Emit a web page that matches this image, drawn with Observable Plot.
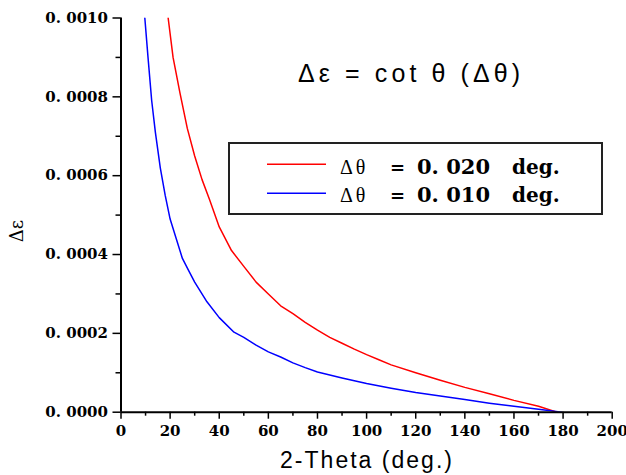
<!DOCTYPE html>
<html>
<head>
<meta charset="utf-8">
<script src="https://cdn.jsdelivr.net/npm/d3@7"></script>
<script src="https://cdn.jsdelivr.net/npm/@observablehq/plot@0.6"></script>
<style>
  html, body { margin: 0; padding: 0; background: #fff; }
  svg { display: block; }
</style>
</head>
<body>
<script>
// 2-Theta (deg.) positions and Δε values
const redTwoTheta = [19.2, 21.2, 24, 27, 30, 33, 36, 40, 45, 50, 55, 60, 65, 70, 75, 80, 85, 90, 95, 100, 105, 110, 120, 130, 140, 150, 160, 170, 177.5];
const redStrain   = [0.00100, 0.00090, 0.00081, 0.00072, 0.00065, 0.00059, 0.00054, 0.00047, 0.00041, 0.00037, 0.00033, 0.00030, 0.00027, 0.00025, 0.000228, 0.000208, 0.00019, 0.000175, 0.00016, 0.000146, 0.000133, 0.00012, 0.00010, 0.000081, 0.000063, 0.000047, 0.00003, 0.000015, 0.0];

const blueTwoTheta = [9.7, 11, 12.5, 14, 16, 18, 20, 22.5, 25, 27.5, 30, 35, 40, 46, 50, 55, 60, 65, 70, 75, 80, 90, 100, 110, 120, 130, 140, 150, 160, 170, 179.5];
const blueStrain   = [0.00100, 0.00090, 0.00079, 0.00071, 0.00062, 0.00055, 0.00049, 0.00044, 0.00039, 0.00036, 0.00033, 0.00028, 0.00024, 0.000203, 0.00019, 0.00017, 0.000153, 0.00014, 0.000125, 0.000113, 0.000102, 0.000087, 0.000073, 0.000061, 0.00005, 0.000041, 0.000032, 0.000023, 0.000015, 0.0000075, 0.0];

const xMajorTicks = [0, 20, 40, 60, 80, 100, 120, 140, 160, 180, 200];
const xMinorTicks = [10, 30, 50, 70, 90, 110, 130, 150, 170, 190];
const yMajorTicks = [0, 0.0002, 0.0004, 0.0006, 0.0008, 0.0010];
const yMinorTicks = [0.0001, 0.0003, 0.0005, 0.0007, 0.0009];

const legendLabels = ["0. 020", "0. 010"];
const seriesColors = ["#ff0000", "#0000ff"];

const redData = redTwoTheta.map((x, i) => ({x, y: redStrain[i]}));
const blueData = blueTwoTheta.map((x, i) => ({x, y: blueStrain[i]}));

const yFmt = d => d3.format(".4f")(d).replace(".", ". ");
const tickFont = {fontFamily: "DejaVu Serif", fontWeight: "bold", fontSize: 15};

const chart = Plot.plot({
  width: 626,
  height: 475,
  marginLeft: 120.5,
  marginRight: 14.3,
  marginTop: 17.5,
  marginBottom: 63.3,
  style: {background: "#fff", color: "#000", overflow: "visible"},
  x: {domain: [0, 200]},
  y: {domain: [0, 0.001]},
  marks: [
    Plot.axisY({ticks: yMinorTicks, tickSize: 5, tickFormat: () => "", strokeWidth: 1.5, label: null}),
    Plot.axisY({ticks: yMajorTicks, tickSize: 8, tickPadding: 5, tickFormat: yFmt, strokeWidth: 1.5, label: null, ...tickFont}),
    Plot.axisX({ticks: xMinorTicks, tickSize: 4, tickFormat: () => "", strokeWidth: 1.5, label: null}),
    Plot.axisX({ticks: xMajorTicks, tickSize: 7, tickPadding: 6, tickFormat: d => String(d), strokeWidth: 1.5, label: null, ...tickFont}),
    Plot.line(redData, {x: "x", y: "y", stroke: seriesColors[0], strokeWidth: 1.5, clip: true}),
    Plot.line(blueData, {x: "x", y: "y", stroke: seriesColors[1], strokeWidth: 1.5, clip: true}),
    Plot.ruleX([0], {strokeWidth: 2}),
    Plot.ruleY([0], {strokeWidth: 2})
  ]
});

document.body.appendChild(chart);

const svg = d3.select(chart);

// Axis titles
svg.append("text")
  .attr("x", 366).attr("y", 468)
  .attr("text-anchor", "middle")
  .attr("font-family", "Liberation Sans")
  .attr("font-size", 23)
  .attr("textLength", 172)
  .attr("lengthAdjust", "spacing")
  .attr("fill", "#000")
  .text("2-Theta (deg.)");

svg.append("text")
  .attr("transform", "translate(23,231) rotate(-90)")
  .attr("text-anchor", "middle")
  .attr("font-family", "DejaVu Serif")
  .attr("font-size", 18)
  .attr("fill", "#000")
  .text("Δε");

// Formula annotation
svg.append("text")
  .attr("x", 298).attr("y", 82)
  .attr("text-anchor", "start")
  .attr("font-family", "Liberation Sans")
  .attr("font-size", 25)
  .attr("textLength", 222)
  .attr("lengthAdjust", "spacing")
  .attr("fill", "#000")
  .text("Δε = cot θ (Δθ)");

// Legend box
svg.append("rect")
  .attr("x", 229).attr("y", 143)
  .attr("width", 373).attr("height", 71)
  .attr("fill", "#fff")
  .attr("stroke", "#222")
  .attr("stroke-width", 2);

const rows = [{ly: 164.3, by: 173.5}, {ly: 193.3, by: 202}];
rows.forEach((r, i) => {
  svg.append("line")
    .attr("x1", 267).attr("x2", 326)
    .attr("y1", r.ly).attr("y2", r.ly)
    .attr("stroke", seriesColors[i]).attr("stroke-width", 1.5);
  const g = svg.append("g").attr("text-anchor", "start").attr("fill", "#000");
  g.append("text")
    .attr("x", 340).attr("y", r.by)
    .attr("font-family", "Liberation Serif").attr("font-size", 20)
    .attr("letter-spacing", 3)
    .text("Δθ");
  g.append("text")
    .attr("x", 390).attr("y", r.by)
    .attr("font-family", "DejaVu Serif").attr("font-weight", "bold").attr("font-size", 18)
    .text("=");
  g.append("text")
    .attr("x", 417).attr("y", r.by)
    .attr("font-family", "DejaVu Serif").attr("font-weight", "bold").attr("font-size", 21)
    .text(legendLabels[i]);
  g.append("text")
    .attr("x", 512).attr("y", r.by)
    .attr("font-family", "DejaVu Serif").attr("font-weight", "bold").attr("font-size", 20)
    .text("deg.");
});
</script>
</body>
</html>
